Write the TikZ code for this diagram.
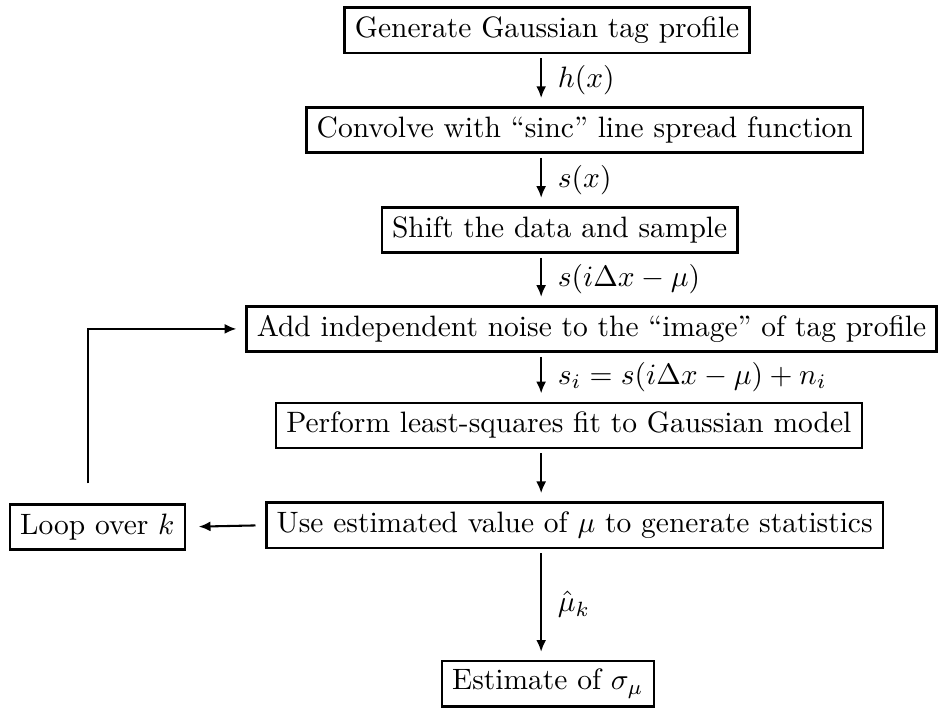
\documentclass[tikz,border=0pt]{standalone}
\usepackage{amsmath}
\usepackage{tikz}
\usetikzlibrary{arrows.meta}

\begin{document}
\begin{tikzpicture}[
  stepbox/.style={draw, line width=0.8pt, inner xsep=3.5pt, inner ysep=2pt, minimum height=15.3pt},
  flow/.style={arrows={-Latex[length=4pt, width=3.4pt]}, line width=0.7pt}
]
\useasboundingbox (0,0) rectangle (11.204,-8.474);
% the chain of steps
\node [stepbox] (gen) at (6.52,-0.36) {Generate Gaussian tag profile};
\node [stepbox] (conv) at (6.97,-1.55) {Convolve with ``sinc'' line spread function};
\node [stepbox] (shift) at (6.67,-2.74) {Shift the data and sample};
\node [stepbox] (noise) at (7.05,-3.92) {Add independent noise to the ``image'' of tag profile};
\node [stepbox] (fit) at (6.78,-5.07) {Perform least-squares fit to Gaussian model};
\node [stepbox] (stats) at (6.85,-6.26) {Use estimated value of $\mu$ to generate statistics};
\node [stepbox] (est) at (6.53,-8.15) {Estimate of $\sigma_\mu$};
\node [stepbox] (loop) at (1.16,-6.28) {Loop over $k$};
\coordinate (spine) at (6.45,0);
\coordinate (back) at (1.05,-5.76);
% arrows down the spine
\draw [flow, shorten <=1.4pt, shorten >=2.8pt] (gen.south -| spine) -- (conv.north -| spine) node [midway, right=2pt] {$h(x)$};
\draw [flow, shorten <=1.4pt, shorten >=2.8pt] (conv.south -| spine) -- (shift.north -| spine) node [midway, right=2pt] {$s(x)$};
\draw [flow, shorten <=1.4pt, shorten >=2.8pt] (shift.south -| spine) -- (noise.north -| spine) node [midway, right=2pt] {$s(i\Delta x-\mu)$};
\draw [flow, shorten <=1.4pt, shorten >=2.8pt] (noise.south -| spine) -- (fit.north -| spine) node [midway, right=2pt] {$s_i=s(i\Delta x-\mu)+n_i$};
\draw [flow, shorten <=1.4pt, shorten >=2.8pt] (fit.south -| spine) -- (stats.north -| spine);
\draw [flow, shorten <=1.4pt, shorten >=2.8pt] (stats.south -| spine) -- (est.north -| spine) node [midway, right=2pt] {$\hat{\mu}_k$};
% the loop
\draw [flow, shorten <=3.3pt, shorten >=4.3pt] (stats.west) -- (loop.east);
\draw [flow, shorten >=3pt] (back) |- (noise.west);
\end{tikzpicture}
\end{document}
